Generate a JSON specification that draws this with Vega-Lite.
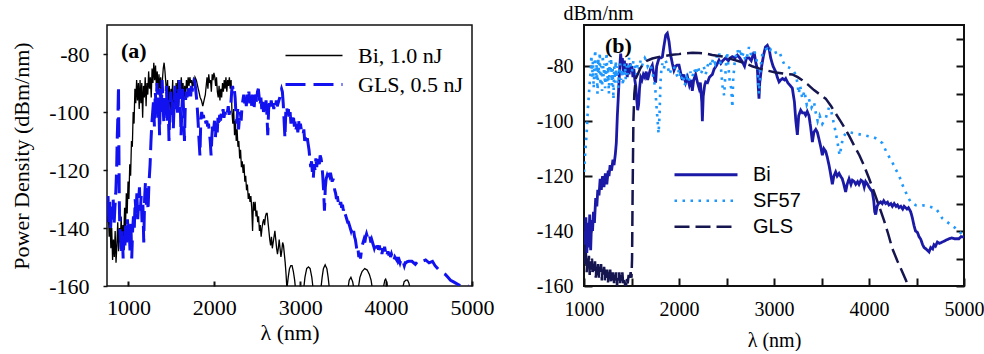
{
  "$schema": "https://vega.github.io/schema/vega-lite/v6.json",
  "padding": {"left": 9, "top": 2, "right": 0, "bottom": 0},
  "background": "white",
  "spacing": 112,
  "bounds": "flush",
  "datasets": {
    "a": [
      {"s":"Bi, 1.0 nJ","x":755,"y":-138},{"s":"Bi, 1.0 nJ","x":765,"y":-134},{"s":"Bi, 1.0 nJ","x":775,"y":-143},{"s":"Bi, 1.0 nJ","x":785,"y":-137},{"s":"Bi, 1.0 nJ","x":795,"y":-147},{"s":"Bi, 1.0 nJ","x":805,"y":-140},{"s":"Bi, 1.0 nJ","x":815,"y":-151},{"s":"Bi, 1.0 nJ","x":825,"y":-144},{"s":"Bi, 1.0 nJ","x":835,"y":-150},{"s":"Bi, 1.0 nJ","x":845,"y":-141},{"s":"Bi, 1.0 nJ","x":855,"y":-152},{"s":"Bi, 1.0 nJ","x":865,"y":-146},{"s":"Bi, 1.0 nJ","x":875,"y":-138},{"s":"Bi, 1.0 nJ","x":885,"y":-148},{"s":"Bi, 1.0 nJ","x":895,"y":-140},{"s":"Bi, 1.0 nJ","x":905,"y":-145},{"s":"Bi, 1.0 nJ","x":915,"y":-136},{"s":"Bi, 1.0 nJ","x":925,"y":-146},{"s":"Bi, 1.0 nJ","x":935,"y":-139},{"s":"Bi, 1.0 nJ","x":945,"y":-143},{"s":"Bi, 1.0 nJ","x":955,"y":-133},{"s":"Bi, 1.0 nJ","x":965,"y":-140},{"s":"Bi, 1.0 nJ","x":975,"y":-128},{"s":"Bi, 1.0 nJ","x":985,"y":-135},{"s":"Bi, 1.0 nJ","x":995,"y":-124},{"s":"Bi, 1.0 nJ","x":1005,"y":-130},{"s":"Bi, 1.0 nJ","x":1015,"y":-118},{"s":"Bi, 1.0 nJ","x":1025,"y":-122},{"s":"Bi, 1.0 nJ","x":1035,"y":-110},{"s":"Bi, 1.0 nJ","x":1045,"y":-112},{"s":"Bi, 1.0 nJ","x":1055,"y":-100},{"s":"Bi, 1.0 nJ","x":1065,"y":-104},{"s":"Bi, 1.0 nJ","x":1075,"y":-92},{"s":"Bi, 1.0 nJ","x":1085,"y":-97},{"s":"Bi, 1.0 nJ","x":1095,"y":-89},{"s":"Bi, 1.0 nJ","x":1105,"y":-96},{"s":"Bi, 1.0 nJ","x":1115,"y":-90},{"s":"Bi, 1.0 nJ","x":1125,"y":-99},{"s":"Bi, 1.0 nJ","x":1135,"y":-89},{"s":"Bi, 1.0 nJ","x":1145,"y":-97},{"s":"Bi, 1.0 nJ","x":1155,"y":-90},{"s":"Bi, 1.0 nJ","x":1165,"y":-102},{"s":"Bi, 1.0 nJ","x":1175,"y":-91},{"s":"Bi, 1.0 nJ","x":1185,"y":-95},{"s":"Bi, 1.0 nJ","x":1195,"y":-88},{"s":"Bi, 1.0 nJ","x":1205,"y":-98},{"s":"Bi, 1.0 nJ","x":1215,"y":-90},{"s":"Bi, 1.0 nJ","x":1225,"y":-94},{"s":"Bi, 1.0 nJ","x":1235,"y":-86},{"s":"Bi, 1.0 nJ","x":1245,"y":-92},{"s":"Bi, 1.0 nJ","x":1255,"y":-88},{"s":"Bi, 1.0 nJ","x":1265,"y":-95},{"s":"Bi, 1.0 nJ","x":1275,"y":-85},{"s":"Bi, 1.0 nJ","x":1285,"y":-90},{"s":"Bi, 1.0 nJ","x":1295,"y":-83},{"s":"Bi, 1.0 nJ","x":1305,"y":-89},{"s":"Bi, 1.0 nJ","x":1315,"y":-84},{"s":"Bi, 1.0 nJ","x":1325,"y":-91},{"s":"Bi, 1.0 nJ","x":1335,"y":-86},{"s":"Bi, 1.0 nJ","x":1345,"y":-94},{"s":"Bi, 1.0 nJ","x":1355,"y":-87},{"s":"Bi, 1.0 nJ","x":1365,"y":-92},{"s":"Bi, 1.0 nJ","x":1375,"y":-88},{"s":"Bi, 1.0 nJ","x":1385,"y":-96},{"s":"Bi, 1.0 nJ","x":1395,"y":-89},{"s":"Bi, 1.0 nJ","x":1405,"y":-85},{"s":"Bi, 1.0 nJ","x":1415,"y":-83},{"s":"Bi, 1.0 nJ","x":1425,"y":-86},{"s":"Bi, 1.0 nJ","x":1435,"y":-90},{"s":"Bi, 1.0 nJ","x":1445,"y":-94},{"s":"Bi, 1.0 nJ","x":1455,"y":-89},{"s":"Bi, 1.0 nJ","x":1465,"y":-98},{"s":"Bi, 1.0 nJ","x":1475,"y":-91},{"s":"Bi, 1.0 nJ","x":1485,"y":-100},{"s":"Bi, 1.0 nJ","x":1495,"y":-92},{"s":"Bi, 1.0 nJ","x":1505,"y":-96},{"s":"Bi, 1.0 nJ","x":1515,"y":-89},{"s":"Bi, 1.0 nJ","x":1525,"y":-104},{"s":"Bi, 1.0 nJ","x":1535,"y":-93},{"s":"Bi, 1.0 nJ","x":1545,"y":-97},{"s":"Bi, 1.0 nJ","x":1555,"y":-90},{"s":"Bi, 1.0 nJ","x":1565,"y":-95},{"s":"Bi, 1.0 nJ","x":1575,"y":-89},{"s":"Bi, 1.0 nJ","x":1585,"y":-98},{"s":"Bi, 1.0 nJ","x":1595,"y":-91},{"s":"Bi, 1.0 nJ","x":1605,"y":-94},{"s":"Bi, 1.0 nJ","x":1615,"y":-88},{"s":"Bi, 1.0 nJ","x":1625,"y":-93},{"s":"Bi, 1.0 nJ","x":1635,"y":-90},{"s":"Bi, 1.0 nJ","x":1645,"y":-96},{"s":"Bi, 1.0 nJ","x":1655,"y":-91},{"s":"Bi, 1.0 nJ","x":1665,"y":-95},{"s":"Bi, 1.0 nJ","x":1675,"y":-89},{"s":"Bi, 1.0 nJ","x":1685,"y":-92},{"s":"Bi, 1.0 nJ","x":1695,"y":-88},{"s":"Bi, 1.0 nJ","x":1705,"y":-91},{"s":"Bi, 1.0 nJ","x":1715,"y":-88},{"s":"Bi, 1.0 nJ","x":1725,"y":-90},{"s":"Bi, 1.0 nJ","x":1735,"y":-89},{"s":"Bi, 1.0 nJ","x":1745,"y":-92},{"s":"Bi, 1.0 nJ","x":1755,"y":-89},{"s":"Bi, 1.0 nJ","x":1765,"y":-91},{"s":"Bi, 1.0 nJ","x":1775,"y":-88},{"s":"Bi, 1.0 nJ","x":1790,"y":-89},{"s":"Bi, 1.0 nJ","x":1805,"y":-91},{"s":"Bi, 1.0 nJ","x":1820,"y":-93},{"s":"Bi, 1.0 nJ","x":1835,"y":-95},{"s":"Bi, 1.0 nJ","x":1850,"y":-96},{"s":"Bi, 1.0 nJ","x":1865,"y":-98},{"s":"Bi, 1.0 nJ","x":1880,"y":-96},{"s":"Bi, 1.0 nJ","x":1895,"y":-94},{"s":"Bi, 1.0 nJ","x":1905,"y":-91},{"s":"Bi, 1.0 nJ","x":1915,"y":-88},{"s":"Bi, 1.0 nJ","x":1925,"y":-92},{"s":"Bi, 1.0 nJ","x":1935,"y":-87},{"s":"Bi, 1.0 nJ","x":1945,"y":-90},{"s":"Bi, 1.0 nJ","x":1955,"y":-89},{"s":"Bi, 1.0 nJ","x":1965,"y":-93},{"s":"Bi, 1.0 nJ","x":1975,"y":-87},{"s":"Bi, 1.0 nJ","x":1985,"y":-89},{"s":"Bi, 1.0 nJ","x":1995,"y":-86.5},{"s":"Bi, 1.0 nJ","x":2005,"y":-88},{"s":"Bi, 1.0 nJ","x":2015,"y":-91},{"s":"Bi, 1.0 nJ","x":2025,"y":-88},{"s":"Bi, 1.0 nJ","x":2035,"y":-93},{"s":"Bi, 1.0 nJ","x":2045,"y":-95},{"s":"Bi, 1.0 nJ","x":2055,"y":-91},{"s":"Bi, 1.0 nJ","x":2065,"y":-96},{"s":"Bi, 1.0 nJ","x":2075,"y":-92},{"s":"Bi, 1.0 nJ","x":2085,"y":-95},{"s":"Bi, 1.0 nJ","x":2095,"y":-90},{"s":"Bi, 1.0 nJ","x":2105,"y":-93},{"s":"Bi, 1.0 nJ","x":2115,"y":-89},{"s":"Bi, 1.0 nJ","x":2125,"y":-92},{"s":"Bi, 1.0 nJ","x":2135,"y":-88},{"s":"Bi, 1.0 nJ","x":2145,"y":-93},{"s":"Bi, 1.0 nJ","x":2155,"y":-89},{"s":"Bi, 1.0 nJ","x":2165,"y":-91},{"s":"Bi, 1.0 nJ","x":2175,"y":-88},{"s":"Bi, 1.0 nJ","x":2185,"y":-92},{"s":"Bi, 1.0 nJ","x":2195,"y":-89},{"s":"Bi, 1.0 nJ","x":2205,"y":-100},{"s":"Bi, 1.0 nJ","x":2215,"y":-104},{"s":"Bi, 1.0 nJ","x":2225,"y":-99},{"s":"Bi, 1.0 nJ","x":2235,"y":-108},{"s":"Bi, 1.0 nJ","x":2245,"y":-103},{"s":"Bi, 1.0 nJ","x":2255,"y":-110},{"s":"Bi, 1.0 nJ","x":2265,"y":-106},{"s":"Bi, 1.0 nJ","x":2275,"y":-112},{"s":"Bi, 1.0 nJ","x":2285,"y":-110},{"s":"Bi, 1.0 nJ","x":2295,"y":-116},{"s":"Bi, 1.0 nJ","x":2305,"y":-113},{"s":"Bi, 1.0 nJ","x":2315,"y":-119},{"s":"Bi, 1.0 nJ","x":2325,"y":-117},{"s":"Bi, 1.0 nJ","x":2335,"y":-121},{"s":"Bi, 1.0 nJ","x":2345,"y":-118},{"s":"Bi, 1.0 nJ","x":2355,"y":-124},{"s":"Bi, 1.0 nJ","x":2365,"y":-122},{"s":"Bi, 1.0 nJ","x":2375,"y":-127},{"s":"Bi, 1.0 nJ","x":2385,"y":-125},{"s":"Bi, 1.0 nJ","x":2395,"y":-130},{"s":"Bi, 1.0 nJ","x":2405,"y":-128},{"s":"Bi, 1.0 nJ","x":2415,"y":-131},{"s":"Bi, 1.0 nJ","x":2425,"y":-129},{"s":"Bi, 1.0 nJ","x":2435,"y":-133},{"s":"Bi, 1.0 nJ","x":2445,"y":-141},{"s":"Bi, 1.0 nJ","x":2455,"y":-131},{"s":"Bi, 1.0 nJ","x":2465,"y":-134},{"s":"Bi, 1.0 nJ","x":2475,"y":-131},{"s":"Bi, 1.0 nJ","x":2485,"y":-136},{"s":"Bi, 1.0 nJ","x":2495,"y":-134},{"s":"Bi, 1.0 nJ","x":2505,"y":-138},{"s":"Bi, 1.0 nJ","x":2515,"y":-136},{"s":"Bi, 1.0 nJ","x":2525,"y":-141},{"s":"Bi, 1.0 nJ","x":2535,"y":-139},{"s":"Bi, 1.0 nJ","x":2545,"y":-143},{"s":"Bi, 1.0 nJ","x":2555,"y":-140},{"s":"Bi, 1.0 nJ","x":2565,"y":-138},{"s":"Bi, 1.0 nJ","x":2575,"y":-137},{"s":"Bi, 1.0 nJ","x":2585,"y":-139},{"s":"Bi, 1.0 nJ","x":2595,"y":-136},{"s":"Bi, 1.0 nJ","x":2605,"y":-135},{"s":"Bi, 1.0 nJ","x":2615,"y":-135},{"s":"Bi, 1.0 nJ","x":2625,"y":-138},{"s":"Bi, 1.0 nJ","x":2635,"y":-141},{"s":"Bi, 1.0 nJ","x":2645,"y":-144},{"s":"Bi, 1.0 nJ","x":2655,"y":-146},{"s":"Bi, 1.0 nJ","x":2665,"y":-143},{"s":"Bi, 1.0 nJ","x":2675,"y":-147},{"s":"Bi, 1.0 nJ","x":2685,"y":-145},{"s":"Bi, 1.0 nJ","x":2695,"y":-143},{"s":"Bi, 1.0 nJ","x":2705,"y":-141},{"s":"Bi, 1.0 nJ","x":2715,"y":-144},{"s":"Bi, 1.0 nJ","x":2725,"y":-147},{"s":"Bi, 1.0 nJ","x":2735,"y":-149},{"s":"Bi, 1.0 nJ","x":2745,"y":-147},{"s":"Bi, 1.0 nJ","x":2755,"y":-144},{"s":"Bi, 1.0 nJ","x":2765,"y":-147},{"s":"Bi, 1.0 nJ","x":2775,"y":-150},{"s":"Bi, 1.0 nJ","x":2785,"y":-148},{"s":"Bi, 1.0 nJ","x":2795,"y":-145},{"s":"Bi, 1.0 nJ","x":2805,"y":-146},{"s":"Bi, 1.0 nJ","x":2815,"y":-149},{"s":"Bi, 1.0 nJ","x":2825,"y":-152},{"s":"Bi, 1.0 nJ","x":2835,"y":-156},{"s":"Bi, 1.0 nJ","x":2845,"y":-161},{"s":"Bi, 1.0 nJ","x":2860,"y":-157},{"s":"Bi, 1.0 nJ","x":2875,"y":-154},{"s":"Bi, 1.0 nJ","x":2890,"y":-153},{"s":"Bi, 1.0 nJ","x":2905,"y":-153},{"s":"Bi, 1.0 nJ","x":2920,"y":-155},{"s":"Bi, 1.0 nJ","x":2935,"y":-158},{"s":"Bi, 1.0 nJ","x":2945,"y":-161},{"s":"Bi, 1.0 nJ","x":3040,"y":-161},{"s":"Bi, 1.0 nJ","x":3055,"y":-157},{"s":"Bi, 1.0 nJ","x":3075,"y":-154},{"s":"Bi, 1.0 nJ","x":3095,"y":-153.4},{"s":"Bi, 1.0 nJ","x":3115,"y":-154},{"s":"Bi, 1.0 nJ","x":3135,"y":-157},{"s":"Bi, 1.0 nJ","x":3150,"y":-161},{"s":"Bi, 1.0 nJ","x":3240,"y":-161},{"s":"Bi, 1.0 nJ","x":3255,"y":-157},{"s":"Bi, 1.0 nJ","x":3270,"y":-154},{"s":"Bi, 1.0 nJ","x":3290,"y":-152.7},{"s":"Bi, 1.0 nJ","x":3310,"y":-154},{"s":"Bi, 1.0 nJ","x":3325,"y":-157},{"s":"Bi, 1.0 nJ","x":3340,"y":-161},{"s":"Bi, 1.0 nJ","x":3555,"y":-161},{"s":"Bi, 1.0 nJ","x":3570,"y":-158},{"s":"Bi, 1.0 nJ","x":3590,"y":-157},{"s":"Bi, 1.0 nJ","x":3610,"y":-158.5},{"s":"Bi, 1.0 nJ","x":3625,"y":-161},{"s":"Bi, 1.0 nJ","x":3675,"y":-161},{"s":"Bi, 1.0 nJ","x":3695,"y":-157},{"s":"Bi, 1.0 nJ","x":3720,"y":-155},{"s":"Bi, 1.0 nJ","x":3750,"y":-154},{"s":"Bi, 1.0 nJ","x":3780,"y":-154.5},{"s":"Bi, 1.0 nJ","x":3805,"y":-156},{"s":"Bi, 1.0 nJ","x":3825,"y":-158},{"s":"Bi, 1.0 nJ","x":3840,"y":-161},{"s":"Bi, 1.0 nJ","x":3965,"y":-161},{"s":"Bi, 1.0 nJ","x":3985,"y":-158},{"s":"Bi, 1.0 nJ","x":3995,"y":-157.6},{"s":"Bi, 1.0 nJ","x":4005,"y":-158.5},{"s":"Bi, 1.0 nJ","x":4020,"y":-161},{"s":"Bi, 1.0 nJ","x":4190,"y":-161},{"s":"Bi, 1.0 nJ","x":4210,"y":-158.5},{"s":"Bi, 1.0 nJ","x":4230,"y":-158},{"s":"Bi, 1.0 nJ","x":4250,"y":-158},{"s":"Bi, 1.0 nJ","x":4265,"y":-159},{"s":"Bi, 1.0 nJ","x":4280,"y":-161},{"s":"Bi, 1.0 nJ","x":4350,"y":-161},
      {"s":"GLS, 0.5 nJ","x":752,"y":-134},{"s":"GLS, 0.5 nJ","x":762,"y":-129},{"s":"GLS, 0.5 nJ","x":772,"y":-138},{"s":"GLS, 0.5 nJ","x":782,"y":-131},{"s":"GLS, 0.5 nJ","x":792,"y":-140},{"s":"GLS, 0.5 nJ","x":802,"y":-133},{"s":"GLS, 0.5 nJ","x":812,"y":-137},{"s":"GLS, 0.5 nJ","x":822,"y":-130},{"s":"GLS, 0.5 nJ","x":832,"y":-139},{"s":"GLS, 0.5 nJ","x":842,"y":-133},{"s":"GLS, 0.5 nJ","x":852,"y":-128},{"s":"GLS, 0.5 nJ","x":862,"y":-120},{"s":"GLS, 0.5 nJ","x":870,"y":-108},{"s":"GLS, 0.5 nJ","x":878,"y":-100},{"s":"GLS, 0.5 nJ","x":884,"y":-91},{"s":"GLS, 0.5 nJ","x":888,"y":-110},{"s":"GLS, 0.5 nJ","x":893,"y":-130},{"s":"GLS, 0.5 nJ","x":899,"y":-140},{"s":"GLS, 0.5 nJ","x":908,"y":-144},{"s":"GLS, 0.5 nJ","x":918,"y":-149},{"s":"GLS, 0.5 nJ","x":928,"y":-141},{"s":"GLS, 0.5 nJ","x":938,"y":-150.5},{"s":"GLS, 0.5 nJ","x":948,"y":-143},{"s":"GLS, 0.5 nJ","x":958,"y":-147},{"s":"GLS, 0.5 nJ","x":968,"y":-139},{"s":"GLS, 0.5 nJ","x":978,"y":-145},{"s":"GLS, 0.5 nJ","x":988,"y":-137},{"s":"GLS, 0.5 nJ","x":998,"y":-142},{"s":"GLS, 0.5 nJ","x":1008,"y":-140},{"s":"GLS, 0.5 nJ","x":1018,"y":-148},{"s":"GLS, 0.5 nJ","x":1028,"y":-138},{"s":"GLS, 0.5 nJ","x":1038,"y":-150.5},{"s":"GLS, 0.5 nJ","x":1048,"y":-141},{"s":"GLS, 0.5 nJ","x":1058,"y":-136},{"s":"GLS, 0.5 nJ","x":1068,"y":-140},{"s":"GLS, 0.5 nJ","x":1078,"y":-130},{"s":"GLS, 0.5 nJ","x":1088,"y":-135},{"s":"GLS, 0.5 nJ","x":1098,"y":-128},{"s":"GLS, 0.5 nJ","x":1108,"y":-137},{"s":"GLS, 0.5 nJ","x":1118,"y":-131},{"s":"GLS, 0.5 nJ","x":1128,"y":-126},{"s":"GLS, 0.5 nJ","x":1138,"y":-134},{"s":"GLS, 0.5 nJ","x":1148,"y":-129},{"s":"GLS, 0.5 nJ","x":1158,"y":-138},{"s":"GLS, 0.5 nJ","x":1168,"y":-132},{"s":"GLS, 0.5 nJ","x":1178,"y":-145},{"s":"GLS, 0.5 nJ","x":1188,"y":-130},{"s":"GLS, 0.5 nJ","x":1198,"y":-124},{"s":"GLS, 0.5 nJ","x":1208,"y":-132},{"s":"GLS, 0.5 nJ","x":1218,"y":-127},{"s":"GLS, 0.5 nJ","x":1228,"y":-134},{"s":"GLS, 0.5 nJ","x":1238,"y":-125},{"s":"GLS, 0.5 nJ","x":1252,"y":-118},{"s":"GLS, 0.5 nJ","x":1262,"y":-110},{"s":"GLS, 0.5 nJ","x":1272,"y":-104},{"s":"GLS, 0.5 nJ","x":1282,"y":-100},{"s":"GLS, 0.5 nJ","x":1292,"y":-96},{"s":"GLS, 0.5 nJ","x":1302,"y":-105},{"s":"GLS, 0.5 nJ","x":1312,"y":-93},{"s":"GLS, 0.5 nJ","x":1322,"y":-98},{"s":"GLS, 0.5 nJ","x":1332,"y":-90},{"s":"GLS, 0.5 nJ","x":1342,"y":-102},{"s":"GLS, 0.5 nJ","x":1352,"y":-95},{"s":"GLS, 0.5 nJ","x":1362,"y":-108},{"s":"GLS, 0.5 nJ","x":1372,"y":-92},{"s":"GLS, 0.5 nJ","x":1382,"y":-100},{"s":"GLS, 0.5 nJ","x":1392,"y":-89},{"s":"GLS, 0.5 nJ","x":1402,"y":-97},{"s":"GLS, 0.5 nJ","x":1412,"y":-104},{"s":"GLS, 0.5 nJ","x":1422,"y":-94},{"s":"GLS, 0.5 nJ","x":1432,"y":-99},{"s":"GLS, 0.5 nJ","x":1442,"y":-91},{"s":"GLS, 0.5 nJ","x":1452,"y":-103},{"s":"GLS, 0.5 nJ","x":1462,"y":-96},{"s":"GLS, 0.5 nJ","x":1472,"y":-110},{"s":"GLS, 0.5 nJ","x":1482,"y":-98},{"s":"GLS, 0.5 nJ","x":1492,"y":-93},{"s":"GLS, 0.5 nJ","x":1502,"y":-101},{"s":"GLS, 0.5 nJ","x":1512,"y":-95},{"s":"GLS, 0.5 nJ","x":1522,"y":-106},{"s":"GLS, 0.5 nJ","x":1532,"y":-97},{"s":"GLS, 0.5 nJ","x":1542,"y":-91},{"s":"GLS, 0.5 nJ","x":1552,"y":-99},{"s":"GLS, 0.5 nJ","x":1562,"y":-93},{"s":"GLS, 0.5 nJ","x":1572,"y":-101},{"s":"GLS, 0.5 nJ","x":1582,"y":-94},{"s":"GLS, 0.5 nJ","x":1592,"y":-89},{"s":"GLS, 0.5 nJ","x":1602,"y":-96},{"s":"GLS, 0.5 nJ","x":1612,"y":-108},{"s":"GLS, 0.5 nJ","x":1622,"y":-99},{"s":"GLS, 0.5 nJ","x":1632,"y":-92},{"s":"GLS, 0.5 nJ","x":1642,"y":-100},{"s":"GLS, 0.5 nJ","x":1652,"y":-110},{"s":"GLS, 0.5 nJ","x":1662,"y":-97},{"s":"GLS, 0.5 nJ","x":1672,"y":-93},{"s":"GLS, 0.5 nJ","x":1682,"y":-95},{"s":"GLS, 0.5 nJ","x":1692,"y":-91},{"s":"GLS, 0.5 nJ","x":1702,"y":-94},{"s":"GLS, 0.5 nJ","x":1712,"y":-92},{"s":"GLS, 0.5 nJ","x":1722,"y":-96},{"s":"GLS, 0.5 nJ","x":1732,"y":-91},{"s":"GLS, 0.5 nJ","x":1742,"y":-93},{"s":"GLS, 0.5 nJ","x":1752,"y":-90},{"s":"GLS, 0.5 nJ","x":1762,"y":-89},{"s":"GLS, 0.5 nJ","x":1772,"y":-89.5},{"s":"GLS, 0.5 nJ","x":1782,"y":-92},{"s":"GLS, 0.5 nJ","x":1792,"y":-95},{"s":"GLS, 0.5 nJ","x":1802,"y":-99},{"s":"GLS, 0.5 nJ","x":1812,"y":-104},{"s":"GLS, 0.5 nJ","x":1822,"y":-110},{"s":"GLS, 0.5 nJ","x":1832,"y":-115},{"s":"GLS, 0.5 nJ","x":1842,"y":-103},{"s":"GLS, 0.5 nJ","x":1852,"y":-100},{"s":"GLS, 0.5 nJ","x":1862,"y":-102},{"s":"GLS, 0.5 nJ","x":1872,"y":-101},{"s":"GLS, 0.5 nJ","x":1882,"y":-103},{"s":"GLS, 0.5 nJ","x":1892,"y":-102},{"s":"GLS, 0.5 nJ","x":1902,"y":-104},{"s":"GLS, 0.5 nJ","x":1912,"y":-103},{"s":"GLS, 0.5 nJ","x":1922,"y":-105},{"s":"GLS, 0.5 nJ","x":1932,"y":-104},{"s":"GLS, 0.5 nJ","x":1942,"y":-107},{"s":"GLS, 0.5 nJ","x":1952,"y":-110},{"s":"GLS, 0.5 nJ","x":1962,"y":-115},{"s":"GLS, 0.5 nJ","x":1972,"y":-108},{"s":"GLS, 0.5 nJ","x":1982,"y":-104},{"s":"GLS, 0.5 nJ","x":1992,"y":-106},{"s":"GLS, 0.5 nJ","x":2002,"y":-103},{"s":"GLS, 0.5 nJ","x":2012,"y":-109},{"s":"GLS, 0.5 nJ","x":2022,"y":-104},{"s":"GLS, 0.5 nJ","x":2032,"y":-108},{"s":"GLS, 0.5 nJ","x":2042,"y":-102},{"s":"GLS, 0.5 nJ","x":2052,"y":-105},{"s":"GLS, 0.5 nJ","x":2062,"y":-101},{"s":"GLS, 0.5 nJ","x":2072,"y":-103},{"s":"GLS, 0.5 nJ","x":2082,"y":-100},{"s":"GLS, 0.5 nJ","x":2092,"y":-101},{"s":"GLS, 0.5 nJ","x":2102,"y":-99},{"s":"GLS, 0.5 nJ","x":2112,"y":-102},{"s":"GLS, 0.5 nJ","x":2122,"y":-100},{"s":"GLS, 0.5 nJ","x":2132,"y":-101},{"s":"GLS, 0.5 nJ","x":2142,"y":-99},{"s":"GLS, 0.5 nJ","x":2152,"y":-100},{"s":"GLS, 0.5 nJ","x":2162,"y":-98},{"s":"GLS, 0.5 nJ","x":2172,"y":-101},{"s":"GLS, 0.5 nJ","x":2182,"y":-99},{"s":"GLS, 0.5 nJ","x":2192,"y":-97},{"s":"GLS, 0.5 nJ","x":2202,"y":-93},{"s":"GLS, 0.5 nJ","x":2212,"y":-91},{"s":"GLS, 0.5 nJ","x":2222,"y":-93},{"s":"GLS, 0.5 nJ","x":2232,"y":-92},{"s":"GLS, 0.5 nJ","x":2242,"y":-95},{"s":"GLS, 0.5 nJ","x":2252,"y":-101},{"s":"GLS, 0.5 nJ","x":2262,"y":-104},{"s":"GLS, 0.5 nJ","x":2272,"y":-99},{"s":"GLS, 0.5 nJ","x":2282,"y":-106},{"s":"GLS, 0.5 nJ","x":2292,"y":-102},{"s":"GLS, 0.5 nJ","x":2302,"y":-100},{"s":"GLS, 0.5 nJ","x":2312,"y":-103},{"s":"GLS, 0.5 nJ","x":2322,"y":-98},{"s":"GLS, 0.5 nJ","x":2332,"y":-96},{"s":"GLS, 0.5 nJ","x":2342,"y":-94},{"s":"GLS, 0.5 nJ","x":2352,"y":-97},{"s":"GLS, 0.5 nJ","x":2362,"y":-95},{"s":"GLS, 0.5 nJ","x":2372,"y":-98},{"s":"GLS, 0.5 nJ","x":2382,"y":-94},{"s":"GLS, 0.5 nJ","x":2392,"y":-96},{"s":"GLS, 0.5 nJ","x":2402,"y":-93},{"s":"GLS, 0.5 nJ","x":2412,"y":-97},{"s":"GLS, 0.5 nJ","x":2422,"y":-95},{"s":"GLS, 0.5 nJ","x":2432,"y":-98},{"s":"GLS, 0.5 nJ","x":2442,"y":-94},{"s":"GLS, 0.5 nJ","x":2452,"y":-96},{"s":"GLS, 0.5 nJ","x":2462,"y":-99},{"s":"GLS, 0.5 nJ","x":2472,"y":-95},{"s":"GLS, 0.5 nJ","x":2482,"y":-94},{"s":"GLS, 0.5 nJ","x":2492,"y":-97},{"s":"GLS, 0.5 nJ","x":2502,"y":-93},{"s":"GLS, 0.5 nJ","x":2512,"y":-92},{"s":"GLS, 0.5 nJ","x":2522,"y":-95},{"s":"GLS, 0.5 nJ","x":2532,"y":-98},{"s":"GLS, 0.5 nJ","x":2542,"y":-95},{"s":"GLS, 0.5 nJ","x":2552,"y":-99},{"s":"GLS, 0.5 nJ","x":2562,"y":-96},{"s":"GLS, 0.5 nJ","x":2572,"y":-100},{"s":"GLS, 0.5 nJ","x":2582,"y":-97},{"s":"GLS, 0.5 nJ","x":2592,"y":-99},{"s":"GLS, 0.5 nJ","x":2602,"y":-96},{"s":"GLS, 0.5 nJ","x":2612,"y":-101},{"s":"GLS, 0.5 nJ","x":2622,"y":-108},{"s":"GLS, 0.5 nJ","x":2632,"y":-99},{"s":"GLS, 0.5 nJ","x":2642,"y":-97},{"s":"GLS, 0.5 nJ","x":2652,"y":-99},{"s":"GLS, 0.5 nJ","x":2662,"y":-96},{"s":"GLS, 0.5 nJ","x":2672,"y":-98},{"s":"GLS, 0.5 nJ","x":2682,"y":-97},{"s":"GLS, 0.5 nJ","x":2692,"y":-99},{"s":"GLS, 0.5 nJ","x":2702,"y":-97},{"s":"GLS, 0.5 nJ","x":2712,"y":-98},{"s":"GLS, 0.5 nJ","x":2722,"y":-96},{"s":"GLS, 0.5 nJ","x":2732,"y":-98},{"s":"GLS, 0.5 nJ","x":2742,"y":-97},{"s":"GLS, 0.5 nJ","x":2752,"y":-96},{"s":"GLS, 0.5 nJ","x":2762,"y":-95},{"s":"GLS, 0.5 nJ","x":2772,"y":-93},{"s":"GLS, 0.5 nJ","x":2782,"y":-92},{"s":"GLS, 0.5 nJ","x":2792,"y":-93},{"s":"GLS, 0.5 nJ","x":2802,"y":-97},{"s":"GLS, 0.5 nJ","x":2812,"y":-103},{"s":"GLS, 0.5 nJ","x":2822,"y":-109},{"s":"GLS, 0.5 nJ","x":2832,"y":-100},{"s":"GLS, 0.5 nJ","x":2842,"y":-98},{"s":"GLS, 0.5 nJ","x":2852,"y":-101},{"s":"GLS, 0.5 nJ","x":2862,"y":-99},{"s":"GLS, 0.5 nJ","x":2872,"y":-103},{"s":"GLS, 0.5 nJ","x":2882,"y":-100},{"s":"GLS, 0.5 nJ","x":2892,"y":-104},{"s":"GLS, 0.5 nJ","x":2902,"y":-101},{"s":"GLS, 0.5 nJ","x":2912,"y":-103},{"s":"GLS, 0.5 nJ","x":2922,"y":-102},{"s":"GLS, 0.5 nJ","x":2932,"y":-105},{"s":"GLS, 0.5 nJ","x":2942,"y":-103},{"s":"GLS, 0.5 nJ","x":2952,"y":-106},{"s":"GLS, 0.5 nJ","x":2962,"y":-104},{"s":"GLS, 0.5 nJ","x":2972,"y":-107},{"s":"GLS, 0.5 nJ","x":2982,"y":-103},{"s":"GLS, 0.5 nJ","x":2992,"y":-106},{"s":"GLS, 0.5 nJ","x":3002,"y":-104},{"s":"GLS, 0.5 nJ","x":3012,"y":-106},{"s":"GLS, 0.5 nJ","x":3022,"y":-107},{"s":"GLS, 0.5 nJ","x":3032,"y":-108},{"s":"GLS, 0.5 nJ","x":3042,"y":-106},{"s":"GLS, 0.5 nJ","x":3052,"y":-110},{"s":"GLS, 0.5 nJ","x":3062,"y":-108},{"s":"GLS, 0.5 nJ","x":3072,"y":-110},{"s":"GLS, 0.5 nJ","x":3082,"y":-109},{"s":"GLS, 0.5 nJ","x":3092,"y":-111},{"s":"GLS, 0.5 nJ","x":3102,"y":-113},{"s":"GLS, 0.5 nJ","x":3112,"y":-116},{"s":"GLS, 0.5 nJ","x":3122,"y":-119},{"s":"GLS, 0.5 nJ","x":3132,"y":-117},{"s":"GLS, 0.5 nJ","x":3142,"y":-121},{"s":"GLS, 0.5 nJ","x":3152,"y":-123},{"s":"GLS, 0.5 nJ","x":3162,"y":-118},{"s":"GLS, 0.5 nJ","x":3172,"y":-120},{"s":"GLS, 0.5 nJ","x":3182,"y":-116},{"s":"GLS, 0.5 nJ","x":3192,"y":-119},{"s":"GLS, 0.5 nJ","x":3202,"y":-115},{"s":"GLS, 0.5 nJ","x":3212,"y":-117},{"s":"GLS, 0.5 nJ","x":3222,"y":-118},{"s":"GLS, 0.5 nJ","x":3232,"y":-115},{"s":"GLS, 0.5 nJ","x":3242,"y":-116},{"s":"GLS, 0.5 nJ","x":3252,"y":-118},{"s":"GLS, 0.5 nJ","x":3262,"y":-122},{"s":"GLS, 0.5 nJ","x":3272,"y":-127},{"s":"GLS, 0.5 nJ","x":3282,"y":-134},{"s":"GLS, 0.5 nJ","x":3292,"y":-126},{"s":"GLS, 0.5 nJ","x":3302,"y":-123},{"s":"GLS, 0.5 nJ","x":3312,"y":-122},{"s":"GLS, 0.5 nJ","x":3322,"y":-123},{"s":"GLS, 0.5 nJ","x":3332,"y":-121},{"s":"GLS, 0.5 nJ","x":3342,"y":-122},{"s":"GLS, 0.5 nJ","x":3352,"y":-121},{"s":"GLS, 0.5 nJ","x":3362,"y":-122.5},{"s":"GLS, 0.5 nJ","x":3372,"y":-124},{"s":"GLS, 0.5 nJ","x":3382,"y":-123},{"s":"GLS, 0.5 nJ","x":3392,"y":-125},{"s":"GLS, 0.5 nJ","x":3402,"y":-127},{"s":"GLS, 0.5 nJ","x":3412,"y":-128},{"s":"GLS, 0.5 nJ","x":3422,"y":-130},{"s":"GLS, 0.5 nJ","x":3432,"y":-129},{"s":"GLS, 0.5 nJ","x":3442,"y":-131},{"s":"GLS, 0.5 nJ","x":3452,"y":-130},{"s":"GLS, 0.5 nJ","x":3462,"y":-132},{"s":"GLS, 0.5 nJ","x":3472,"y":-131},{"s":"GLS, 0.5 nJ","x":3482,"y":-133},{"s":"GLS, 0.5 nJ","x":3492,"y":-132},{"s":"GLS, 0.5 nJ","x":3502,"y":-134},{"s":"GLS, 0.5 nJ","x":3512,"y":-133},{"s":"GLS, 0.5 nJ","x":3522,"y":-135},{"s":"GLS, 0.5 nJ","x":3532,"y":-136},{"s":"GLS, 0.5 nJ","x":3542,"y":-137},{"s":"GLS, 0.5 nJ","x":3552,"y":-138},{"s":"GLS, 0.5 nJ","x":3562,"y":-138},{"s":"GLS, 0.5 nJ","x":3572,"y":-139},{"s":"GLS, 0.5 nJ","x":3582,"y":-140},{"s":"GLS, 0.5 nJ","x":3592,"y":-141},{"s":"GLS, 0.5 nJ","x":3602,"y":-140},{"s":"GLS, 0.5 nJ","x":3612,"y":-142},{"s":"GLS, 0.5 nJ","x":3622,"y":-141},{"s":"GLS, 0.5 nJ","x":3632,"y":-143},{"s":"GLS, 0.5 nJ","x":3642,"y":-144},{"s":"GLS, 0.5 nJ","x":3652,"y":-146},{"s":"GLS, 0.5 nJ","x":3662,"y":-148},{"s":"GLS, 0.5 nJ","x":3672,"y":-147},{"s":"GLS, 0.5 nJ","x":3682,"y":-150},{"s":"GLS, 0.5 nJ","x":3692,"y":-149},{"s":"GLS, 0.5 nJ","x":3702,"y":-150.5},{"s":"GLS, 0.5 nJ","x":3712,"y":-148},{"s":"GLS, 0.5 nJ","x":3722,"y":-146},{"s":"GLS, 0.5 nJ","x":3732,"y":-145},{"s":"GLS, 0.5 nJ","x":3742,"y":-144},{"s":"GLS, 0.5 nJ","x":3752,"y":-145},{"s":"GLS, 0.5 nJ","x":3762,"y":-143},{"s":"GLS, 0.5 nJ","x":3772,"y":-142},{"s":"GLS, 0.5 nJ","x":3782,"y":-143},{"s":"GLS, 0.5 nJ","x":3792,"y":-142.5},{"s":"GLS, 0.5 nJ","x":3802,"y":-144},{"s":"GLS, 0.5 nJ","x":3812,"y":-143},{"s":"GLS, 0.5 nJ","x":3822,"y":-145},{"s":"GLS, 0.5 nJ","x":3832,"y":-144},{"s":"GLS, 0.5 nJ","x":3842,"y":-145},{"s":"GLS, 0.5 nJ","x":3852,"y":-146},{"s":"GLS, 0.5 nJ","x":3862,"y":-147},{"s":"GLS, 0.5 nJ","x":3872,"y":-146},{"s":"GLS, 0.5 nJ","x":3882,"y":-145},{"s":"GLS, 0.5 nJ","x":3892,"y":-147},{"s":"GLS, 0.5 nJ","x":3902,"y":-146},{"s":"GLS, 0.5 nJ","x":3912,"y":-147.5},{"s":"GLS, 0.5 nJ","x":3922,"y":-146},{"s":"GLS, 0.5 nJ","x":3932,"y":-148},{"s":"GLS, 0.5 nJ","x":3942,"y":-147},{"s":"GLS, 0.5 nJ","x":3952,"y":-149},{"s":"GLS, 0.5 nJ","x":3962,"y":-147},{"s":"GLS, 0.5 nJ","x":3972,"y":-148},{"s":"GLS, 0.5 nJ","x":3982,"y":-146.5},{"s":"GLS, 0.5 nJ","x":3992,"y":-148},{"s":"GLS, 0.5 nJ","x":4002,"y":-147},{"s":"GLS, 0.5 nJ","x":4012,"y":-149},{"s":"GLS, 0.5 nJ","x":4022,"y":-148},{"s":"GLS, 0.5 nJ","x":4032,"y":-149.5},{"s":"GLS, 0.5 nJ","x":4042,"y":-148.5},{"s":"GLS, 0.5 nJ","x":4052,"y":-150},{"s":"GLS, 0.5 nJ","x":4062,"y":-149},{"s":"GLS, 0.5 nJ","x":4072,"y":-150},{"s":"GLS, 0.5 nJ","x":4082,"y":-149.5},{"s":"GLS, 0.5 nJ","x":4092,"y":-151},{"s":"GLS, 0.5 nJ","x":4102,"y":-150},{"s":"GLS, 0.5 nJ","x":4112,"y":-150.5},{"s":"GLS, 0.5 nJ","x":4122,"y":-151},{"s":"GLS, 0.5 nJ","x":4132,"y":-150},{"s":"GLS, 0.5 nJ","x":4142,"y":-151.5},{"s":"GLS, 0.5 nJ","x":4152,"y":-151},{"s":"GLS, 0.5 nJ","x":4162,"y":-152},{"s":"GLS, 0.5 nJ","x":4172,"y":-151},{"s":"GLS, 0.5 nJ","x":4182,"y":-152},{"s":"GLS, 0.5 nJ","x":4192,"y":-152.5},{"s":"GLS, 0.5 nJ","x":4202,"y":-152},{"s":"GLS, 0.5 nJ","x":4212,"y":-153},{"s":"GLS, 0.5 nJ","x":4222,"y":-152},{"s":"GLS, 0.5 nJ","x":4232,"y":-152},{"s":"GLS, 0.5 nJ","x":4242,"y":-151.7},{"s":"GLS, 0.5 nJ","x":4262,"y":-151.5},{"s":"GLS, 0.5 nJ","x":4300,"y":-151.5},{"s":"GLS, 0.5 nJ","x":4340,"y":-152.5},{"s":"GLS, 0.5 nJ","x":4380,"y":-151},{"s":"GLS, 0.5 nJ","x":4420,"y":-151.5},{"s":"GLS, 0.5 nJ","x":4460,"y":-151},{"s":"GLS, 0.5 nJ","x":4500,"y":-152},{"s":"GLS, 0.5 nJ","x":4540,"y":-151.5},{"s":"GLS, 0.5 nJ","x":4570,"y":-153},{"s":"GLS, 0.5 nJ","x":4600,"y":-154},{"s":"GLS, 0.5 nJ","x":4630,"y":-155},{"s":"GLS, 0.5 nJ","x":4660,"y":-155.5},{"s":"GLS, 0.5 nJ","x":4690,"y":-156},{"s":"GLS, 0.5 nJ","x":4720,"y":-157},{"s":"GLS, 0.5 nJ","x":4750,"y":-158},{"s":"GLS, 0.5 nJ","x":4780,"y":-158.5},{"s":"GLS, 0.5 nJ","x":4810,"y":-159},{"s":"GLS, 0.5 nJ","x":4840,"y":-159.5},{"s":"GLS, 0.5 nJ","x":4870,"y":-160},{"s":"GLS, 0.5 nJ","x":4900,"y":-159.8},{"s":"GLS, 0.5 nJ","x":4930,"y":-160},{"s":"GLS, 0.5 nJ","x":4960,"y":-160}
    ],
    "b1": [
      {"s":"Bi","x":1000,"y":-140},{"s":"Bi","x":1010,"y":-152},{"s":"Bi","x":1020,"y":-135},{"s":"Bi","x":1030,"y":-148},{"s":"Bi","x":1040,"y":-137},{"s":"Bi","x":1050,"y":-146},{"s":"Bi","x":1060,"y":-134},{"s":"Bi","x":1070,"y":-147},{"s":"Bi","x":1080,"y":-136},{"s":"Bi","x":1090,"y":-140},{"s":"Bi","x":1100,"y":-133},{"s":"Bi","x":1110,"y":-137},{"s":"Bi","x":1123,"y":-128},{"s":"Bi","x":1135,"y":-131},{"s":"Bi","x":1145,"y":-125},{"s":"Bi","x":1158,"y":-127},{"s":"Bi","x":1170,"y":-121},{"s":"Bi","x":1182,"y":-125},{"s":"Bi","x":1195,"y":-120},{"s":"Bi","x":1210,"y":-124},{"s":"Bi","x":1225,"y":-119},{"s":"Bi","x":1240,"y":-123},{"s":"Bi","x":1255,"y":-118},{"s":"Bi","x":1263,"y":-120},{"s":"Bi","x":1275,"y":-116},{"s":"Bi","x":1290,"y":-118},{"s":"Bi","x":1305,"y":-114},{"s":"Bi","x":1316,"y":-116},{"s":"Bi","x":1330,"y":-112},{"s":"Bi","x":1340,"y":-108},{"s":"Bi","x":1351,"y":-98},{"s":"Bi","x":1360,"y":-92},{"s":"Bi","x":1368,"y":-86},{"s":"Bi","x":1377,"y":-80},{"s":"Bi","x":1386,"y":-75.4},{"s":"Bi","x":1395,"y":-79},{"s":"Bi","x":1404,"y":-77},{"s":"Bi","x":1415,"y":-83},{"s":"Bi","x":1425,"y":-78},{"s":"Bi","x":1435,"y":-82},{"s":"Bi","x":1445,"y":-79},{"s":"Bi","x":1455,"y":-84},{"s":"Bi","x":1465,"y":-80},{"s":"Bi","x":1475,"y":-83},{"s":"Bi","x":1485,"y":-79},{"s":"Bi","x":1495,"y":-82},{"s":"Bi","x":1505,"y":-80},{"s":"Bi","x":1515,"y":-84},{"s":"Bi","x":1525,"y":-81},{"s":"Bi","x":1535,"y":-85},{"s":"Bi","x":1544,"y":-87},{"s":"Bi","x":1555,"y":-92},{"s":"Bi","x":1565,"y":-96},{"s":"Bi","x":1575,"y":-94},{"s":"Bi","x":1585,"y":-88},{"s":"Bi","x":1597,"y":-84},{"s":"Bi","x":1610,"y":-85},{"s":"Bi","x":1625,"y":-83},{"s":"Bi","x":1640,"y":-84},{"s":"Bi","x":1655,"y":-82},{"s":"Bi","x":1670,"y":-85},{"s":"Bi","x":1684,"y":-83},{"s":"Bi","x":1700,"y":-81},{"s":"Bi","x":1719,"y":-79.6},{"s":"Bi","x":1730,"y":-82},{"s":"Bi","x":1745,"y":-85},{"s":"Bi","x":1754,"y":-86},{"s":"Bi","x":1765,"y":-80},{"s":"Bi","x":1790,"y":-77},{"s":"Bi","x":1810,"y":-77},{"s":"Bi","x":1825,"y":-76.6},{"s":"Bi","x":1840,"y":-73},{"s":"Bi","x":1860,"y":-68.7},{"s":"Bi","x":1877,"y":-68},{"s":"Bi","x":1895,"y":-71},{"s":"Bi","x":1912,"y":-76},{"s":"Bi","x":1930,"y":-79},{"s":"Bi","x":1947,"y":-81.5},{"s":"Bi","x":1965,"y":-80},{"s":"Bi","x":1980,"y":-79.6},{"s":"Bi","x":2000,"y":-79.6},{"s":"Bi","x":2015,"y":-82},{"s":"Bi","x":2035,"y":-85},{"s":"Bi","x":2050,"y":-83},{"s":"Bi","x":2070,"y":-86},{"s":"Bi","x":2090,"y":-84},{"s":"Bi","x":2110,"y":-87},{"s":"Bi","x":2130,"y":-85},{"s":"Bi","x":2140,"y":-89},{"s":"Bi","x":2155,"y":-85},{"s":"Bi","x":2175,"y":-83},{"s":"Bi","x":2195,"y":-86},{"s":"Bi","x":2211,"y":-88},{"s":"Bi","x":2225,"y":-86},{"s":"Bi","x":2240,"y":-93},{"s":"Bi","x":2246,"y":-100},{"s":"Bi","x":2255,"y":-91},{"s":"Bi","x":2270,"y":-87},{"s":"Bi","x":2281,"y":-85.7},{"s":"Bi","x":2300,"y":-86},{"s":"Bi","x":2320,"y":-84},{"s":"Bi","x":2351,"y":-83},{"s":"Bi","x":2370,"y":-81},{"s":"Bi","x":2390,"y":-80},{"s":"Bi","x":2421,"y":-77.8},{"s":"Bi","x":2440,"y":-79},{"s":"Bi","x":2460,"y":-78},{"s":"Bi","x":2491,"y":-77},{"s":"Bi","x":2520,"y":-78},{"s":"Bi","x":2540,"y":-77},{"s":"Bi","x":2561,"y":-76.5},{"s":"Bi","x":2590,"y":-77},{"s":"Bi","x":2614,"y":-76},{"s":"Bi","x":2640,"y":-77},{"s":"Bi","x":2667,"y":-78.4},{"s":"Bi","x":2690,"y":-80},{"s":"Bi","x":2710,"y":-77},{"s":"Bi","x":2737,"y":-77},{"s":"Bi","x":2760,"y":-78},{"s":"Bi","x":2790,"y":-74.8},{"s":"Bi","x":2810,"y":-79},{"s":"Bi","x":2825,"y":-81},{"s":"Bi","x":2835,"y":-88},{"s":"Bi","x":2842,"y":-91.8},{"s":"Bi","x":2850,"y":-86},{"s":"Bi","x":2870,"y":-80},{"s":"Bi","x":2890,"y":-76},{"s":"Bi","x":2910,"y":-73},{"s":"Bi","x":2930,"y":-72.4},{"s":"Bi","x":2950,"y":-74},{"s":"Bi","x":2965,"y":-77},{"s":"Bi","x":2990,"y":-80},{"s":"Bi","x":3018,"y":-82},{"s":"Bi","x":3035,"y":-84},{"s":"Bi","x":3053,"y":-85.7},{"s":"Bi","x":3070,"y":-85},{"s":"Bi","x":3090,"y":-84.5},{"s":"Bi","x":3110,"y":-85},{"s":"Bi","x":3123,"y":-84.5},{"s":"Bi","x":3145,"y":-86},{"s":"Bi","x":3170,"y":-87},{"s":"Bi","x":3193,"y":-88},{"s":"Bi","x":3215,"y":-93},{"s":"Bi","x":3230,"y":-100},{"s":"Bi","x":3246,"y":-105},{"s":"Bi","x":3260,"y":-98},{"s":"Bi","x":3281,"y":-96},{"s":"Bi","x":3300,"y":-97},{"s":"Bi","x":3320,"y":-97},{"s":"Bi","x":3333,"y":-97.8},{"s":"Bi","x":3350,"y":-96.5},{"s":"Bi","x":3368,"y":-98},{"s":"Bi","x":3385,"y":-102},{"s":"Bi","x":3404,"y":-107.6},{"s":"Bi","x":3420,"y":-104},{"s":"Bi","x":3440,"y":-103},{"s":"Bi","x":3456,"y":-104},{"s":"Bi","x":3470,"y":-106},{"s":"Bi","x":3490,"y":-109},{"s":"Bi","x":3509,"y":-112.4},{"s":"Bi","x":3525,"y":-110},{"s":"Bi","x":3544,"y":-111},{"s":"Bi","x":3560,"y":-113},{"s":"Bi","x":3579,"y":-116},{"s":"Bi","x":3595,"y":-119},{"s":"Bi","x":3614,"y":-123},{"s":"Bi","x":3630,"y":-120},{"s":"Bi","x":3649,"y":-118.5},{"s":"Bi","x":3665,"y":-120},{"s":"Bi","x":3685,"y":-119},{"s":"Bi","x":3700,"y":-120},{"s":"Bi","x":3719,"y":-121},{"s":"Bi","x":3735,"y":-123},{"s":"Bi","x":3754,"y":-125.8},{"s":"Bi","x":3770,"y":-123},{"s":"Bi","x":3790,"y":-121},{"s":"Bi","x":3810,"y":-123},{"s":"Bi","x":3825,"y":-121.5},{"s":"Bi","x":3845,"y":-122},{"s":"Bi","x":3860,"y":-123},{"s":"Bi","x":3880,"y":-122},{"s":"Bi","x":3895,"y":-123},{"s":"Bi","x":3915,"y":-121.5},{"s":"Bi","x":3935,"y":-122},{"s":"Bi","x":3950,"y":-124},{"s":"Bi","x":3965,"y":-122},{"s":"Bi","x":3985,"y":-123},{"s":"Bi","x":4000,"y":-124},{"s":"Bi","x":4020,"y":-125},{"s":"Bi","x":4035,"y":-125.8},{"s":"Bi","x":4050,"y":-129},{"s":"Bi","x":4060,"y":-133},{"s":"Bi","x":4070,"y":-134},{"s":"Bi","x":4085,"y":-131},{"s":"Bi","x":4100,"y":-130},{"s":"Bi","x":4123,"y":-129.4},{"s":"Bi","x":4140,"y":-130},{"s":"Bi","x":4155,"y":-129},{"s":"Bi","x":4175,"y":-130},{"s":"Bi","x":4195,"y":-129.5},{"s":"Bi","x":4210,"y":-130.5},{"s":"Bi","x":4230,"y":-130},{"s":"Bi","x":4246,"y":-131},{"s":"Bi","x":4265,"y":-130},{"s":"Bi","x":4285,"y":-131},{"s":"Bi","x":4300,"y":-130.5},{"s":"Bi","x":4316,"y":-131.5},{"s":"Bi","x":4335,"y":-131},{"s":"Bi","x":4355,"y":-132},{"s":"Bi","x":4370,"y":-131},{"s":"Bi","x":4386,"y":-131.5},{"s":"Bi","x":4400,"y":-132},{"s":"Bi","x":4415,"y":-131.5},{"s":"Bi","x":4439,"y":-133},{"s":"Bi","x":4455,"y":-135},{"s":"Bi","x":4474,"y":-138},{"s":"Bi","x":4490,"y":-140},{"s":"Bi","x":4510,"y":-140.5},{"s":"Bi","x":4526,"y":-142},{"s":"Bi","x":4545,"y":-143},{"s":"Bi","x":4565,"y":-145},{"s":"Bi","x":4580,"y":-146},{"s":"Bi","x":4596,"y":-146.4},{"s":"Bi","x":4615,"y":-147},{"s":"Bi","x":4632,"y":-147.6},{"s":"Bi","x":4650,"y":-146},{"s":"Bi","x":4670,"y":-146.5},{"s":"Bi","x":4684,"y":-145},{"s":"Bi","x":4700,"y":-145.5},{"s":"Bi","x":4720,"y":-144},{"s":"Bi","x":4740,"y":-144.5},{"s":"Bi","x":4772,"y":-144},{"s":"Bi","x":4800,"y":-143.5},{"s":"Bi","x":4842,"y":-142.8},{"s":"Bi","x":4870,"y":-142.5},{"s":"Bi","x":4900,"y":-142.8},{"s":"Bi","x":4947,"y":-142.8},{"s":"Bi","x":4970,"y":-142},{"s":"Bi","x":5000,"y":-142.2},
      {"s":"SF57","x":1000,"y":-118.5},{"s":"SF57","x":1010,"y":-113},{"s":"SF57","x":1020,"y":-108},{"s":"SF57","x":1030,"y":-103},{"s":"SF57","x":1040,"y":-96},{"s":"SF57","x":1050,"y":-91},{"s":"SF57","x":1060,"y":-86},{"s":"SF57","x":1070,"y":-82},{"s":"SF57","x":1078,"y":-76},{"s":"SF57","x":1086,"y":-84},{"s":"SF57","x":1094,"y":-78},{"s":"SF57","x":1102,"y":-88},{"s":"SF57","x":1110,"y":-80},{"s":"SF57","x":1118,"y":-74},{"s":"SF57","x":1126,"y":-85},{"s":"SF57","x":1134,"y":-79},{"s":"SF57","x":1142,"y":-90},{"s":"SF57","x":1150,"y":-77},{"s":"SF57","x":1158,"y":-83},{"s":"SF57","x":1166,"y":-75},{"s":"SF57","x":1174,"y":-87},{"s":"SF57","x":1182,"y":-80},{"s":"SF57","x":1190,"y":-89},{"s":"SF57","x":1198,"y":-76},{"s":"SF57","x":1206,"y":-84},{"s":"SF57","x":1214,"y":-79},{"s":"SF57","x":1222,"y":-88},{"s":"SF57","x":1230,"y":-81},{"s":"SF57","x":1238,"y":-75},{"s":"SF57","x":1246,"y":-86},{"s":"SF57","x":1254,"y":-80},{"s":"SF57","x":1262,"y":-90},{"s":"SF57","x":1270,"y":-78},{"s":"SF57","x":1278,"y":-84},{"s":"SF57","x":1286,"y":-77},{"s":"SF57","x":1294,"y":-87},{"s":"SF57","x":1302,"y":-81},{"s":"SF57","x":1310,"y":-92},{"s":"SF57","x":1318,"y":-80},{"s":"SF57","x":1326,"y":-86},{"s":"SF57","x":1334,"y":-78},{"s":"SF57","x":1342,"y":-84},{"s":"SF57","x":1350,"y":-80},{"s":"SF57","x":1360,"y":-88},{"s":"SF57","x":1370,"y":-82},{"s":"SF57","x":1380,"y":-79},{"s":"SF57","x":1390,"y":-85},{"s":"SF57","x":1400,"y":-81},{"s":"SF57","x":1410,"y":-87},{"s":"SF57","x":1420,"y":-82},{"s":"SF57","x":1430,"y":-79},{"s":"SF57","x":1440,"y":-85},{"s":"SF57","x":1450,"y":-80},{"s":"SF57","x":1460,"y":-83},{"s":"SF57","x":1475,"y":-77},{"s":"SF57","x":1490,"y":-79},{"s":"SF57","x":1505,"y":-82},{"s":"SF57","x":1520,"y":-78},{"s":"SF57","x":1535,"y":-80},{"s":"SF57","x":1550,"y":-83},{"s":"SF57","x":1565,"y":-79},{"s":"SF57","x":1580,"y":-81},{"s":"SF57","x":1595,"y":-78},{"s":"SF57","x":1610,"y":-80},{"s":"SF57","x":1625,"y":-78},{"s":"SF57","x":1640,"y":-77},{"s":"SF57","x":1655,"y":-78},{"s":"SF57","x":1670,"y":-80},{"s":"SF57","x":1685,"y":-79},{"s":"SF57","x":1700,"y":-79.6},{"s":"SF57","x":1719,"y":-82},{"s":"SF57","x":1735,"y":-85},{"s":"SF57","x":1750,"y":-88},{"s":"SF57","x":1762,"y":-94},{"s":"SF57","x":1775,"y":-100},{"s":"SF57","x":1785,"y":-104.5},{"s":"SF57","x":1795,"y":-98},{"s":"SF57","x":1805,"y":-86},{"s":"SF57","x":1815,"y":-81},{"s":"SF57","x":1825,"y":-79},{"s":"SF57","x":1840,"y":-81},{"s":"SF57","x":1860,"y":-78},{"s":"SF57","x":1880,"y":-80},{"s":"SF57","x":1900,"y":-83},{"s":"SF57","x":1920,"y":-81},{"s":"SF57","x":1945,"y":-80},{"s":"SF57","x":1965,"y":-82},{"s":"SF57","x":1985,"y":-84},{"s":"SF57","x":2000,"y":-81},{"s":"SF57","x":2020,"y":-85},{"s":"SF57","x":2040,"y":-83},{"s":"SF57","x":2060,"y":-87},{"s":"SF57","x":2080,"y":-84},{"s":"SF57","x":2100,"y":-86},{"s":"SF57","x":2120,"y":-82},{"s":"SF57","x":2140,"y":-84},{"s":"SF57","x":2160,"y":-81},{"s":"SF57","x":2180,"y":-83},{"s":"SF57","x":2200,"y":-80},{"s":"SF57","x":2220,"y":-83},{"s":"SF57","x":2240,"y":-82},{"s":"SF57","x":2260,"y":-80},{"s":"SF57","x":2281,"y":-83},{"s":"SF57","x":2300,"y":-80},{"s":"SF57","x":2320,"y":-78},{"s":"SF57","x":2340,"y":-80},{"s":"SF57","x":2360,"y":-77},{"s":"SF57","x":2380,"y":-79},{"s":"SF57","x":2400,"y":-76},{"s":"SF57","x":2421,"y":-74.8},{"s":"SF57","x":2440,"y":-80},{"s":"SF57","x":2460,"y":-88},{"s":"SF57","x":2475,"y":-90.6},{"s":"SF57","x":2490,"y":-82},{"s":"SF57","x":2505,"y":-74.8},{"s":"SF57","x":2520,"y":-80},{"s":"SF57","x":2535,"y":-86},{"s":"SF57","x":2550,"y":-88},{"s":"SF57","x":2562,"y":-95},{"s":"SF57","x":2570,"y":-85},{"s":"SF57","x":2585,"y":-79},{"s":"SF57","x":2600,"y":-76},{"s":"SF57","x":2614,"y":-74},{"s":"SF57","x":2630,"y":-76},{"s":"SF57","x":2645,"y":-73.6},{"s":"SF57","x":2660,"y":-77},{"s":"SF57","x":2680,"y":-75},{"s":"SF57","x":2700,"y":-78},{"s":"SF57","x":2720,"y":-76},{"s":"SF57","x":2737,"y":-73},{"s":"SF57","x":2760,"y":-76},{"s":"SF57","x":2790,"y":-74.5},{"s":"SF57","x":2810,"y":-76},{"s":"SF57","x":2825,"y":-80},{"s":"SF57","x":2842,"y":-90},{"s":"SF57","x":2860,"y":-80},{"s":"SF57","x":2880,"y":-75},{"s":"SF57","x":2900,"y":-74},{"s":"SF57","x":2930,"y":-73.6},{"s":"SF57","x":2950,"y":-75},{"s":"SF57","x":2965,"y":-74},{"s":"SF57","x":2990,"y":-75.4},{"s":"SF57","x":3020,"y":-75},{"s":"SF57","x":3053,"y":-74.5},{"s":"SF57","x":3070,"y":-76},{"s":"SF57","x":3090,"y":-78},{"s":"SF57","x":3120,"y":-80},{"s":"SF57","x":3160,"y":-80.5},{"s":"SF57","x":3200,"y":-81.5},{"s":"SF57","x":3228,"y":-83},{"s":"SF57","x":3246,"y":-86},{"s":"SF57","x":3260,"y":-90},{"s":"SF57","x":3275,"y":-87},{"s":"SF57","x":3298,"y":-91.8},{"s":"SF57","x":3320,"y":-89},{"s":"SF57","x":3345,"y":-94},{"s":"SF57","x":3368,"y":-92},{"s":"SF57","x":3395,"y":-95},{"s":"SF57","x":3421,"y":-93},{"s":"SF57","x":3440,"y":-97},{"s":"SF57","x":3460,"y":-100},{"s":"SF57","x":3480,"y":-98},{"s":"SF57","x":3509,"y":-101},{"s":"SF57","x":3544,"y":-99},{"s":"SF57","x":3579,"y":-95},{"s":"SF57","x":3600,"y":-96},{"s":"SF57","x":3625,"y":-100},{"s":"SF57","x":3649,"y":-104},{"s":"SF57","x":3670,"y":-108},{"s":"SF57","x":3690,"y":-112.4},{"s":"SF57","x":3705,"y":-110},{"s":"SF57","x":3725,"y":-106},{"s":"SF57","x":3754,"y":-104.5},{"s":"SF57","x":3790,"y":-104},{"s":"SF57","x":3860,"y":-104.5},{"s":"SF57","x":3930,"y":-105},{"s":"SF57","x":4000,"y":-105.5},{"s":"SF57","x":4035,"y":-105.7},{"s":"SF57","x":4070,"y":-106.2},{"s":"SF57","x":4105,"y":-107},{"s":"SF57","x":4140,"y":-108},{"s":"SF57","x":4158,"y":-109.4},{"s":"SF57","x":4193,"y":-111.8},{"s":"SF57","x":4220,"y":-113.5},{"s":"SF57","x":4246,"y":-115},{"s":"SF57","x":4280,"y":-117.5},{"s":"SF57","x":4316,"y":-119.7},{"s":"SF57","x":4350,"y":-123},{"s":"SF57","x":4386,"y":-125.8},{"s":"SF57","x":4415,"y":-128},{"s":"SF57","x":4439,"y":-129.4},{"s":"SF57","x":4491,"y":-130.6},{"s":"SF57","x":4561,"y":-130.6},{"s":"SF57","x":4630,"y":-131},{"s":"SF57","x":4702,"y":-131.8},{"s":"SF57","x":4740,"y":-133.5},{"s":"SF57","x":4772,"y":-135.4},{"s":"SF57","x":4842,"y":-137.2},{"s":"SF57","x":4912,"y":-139},{"s":"SF57","x":4960,"y":-140.5},{"s":"SF57","x":5000,"y":-142}
    ],
    "b2": [
      {"s":"GLS","x":1000,"y":-150},{"s":"GLS","x":1005,"y":-145},{"s":"GLS","x":1012,"y":-152},{"s":"GLS","x":1020,"y":-148},{"s":"GLS","x":1028,"y":-155},{"s":"GLS","x":1036,"y":-150},{"s":"GLS","x":1044,"y":-153},{"s":"GLS","x":1052,"y":-149},{"s":"GLS","x":1060,"y":-156},{"s":"GLS","x":1068,"y":-151},{"s":"GLS","x":1076,"y":-154},{"s":"GLS","x":1084,"y":-150},{"s":"GLS","x":1092,"y":-156},{"s":"GLS","x":1100,"y":-152},{"s":"GLS","x":1108,"y":-155},{"s":"GLS","x":1116,"y":-151},{"s":"GLS","x":1124,"y":-157},{"s":"GLS","x":1132,"y":-153},{"s":"GLS","x":1140,"y":-156},{"s":"GLS","x":1148,"y":-152},{"s":"GLS","x":1156,"y":-157},{"s":"GLS","x":1164,"y":-153},{"s":"GLS","x":1172,"y":-155},{"s":"GLS","x":1180,"y":-152},{"s":"GLS","x":1188,"y":-158},{"s":"GLS","x":1196,"y":-154},{"s":"GLS","x":1204,"y":-156},{"s":"GLS","x":1212,"y":-153},{"s":"GLS","x":1220,"y":-158},{"s":"GLS","x":1228,"y":-154},{"s":"GLS","x":1236,"y":-157},{"s":"GLS","x":1244,"y":-154},{"s":"GLS","x":1252,"y":-159},{"s":"GLS","x":1260,"y":-155},{"s":"GLS","x":1268,"y":-157},{"s":"GLS","x":1276,"y":-154},{"s":"GLS","x":1284,"y":-159},{"s":"GLS","x":1292,"y":-155},{"s":"GLS","x":1300,"y":-158},{"s":"GLS","x":1308,"y":-155},{"s":"GLS","x":1316,"y":-159},{"s":"GLS","x":1324,"y":-156},{"s":"GLS","x":1332,"y":-158},{"s":"GLS","x":1340,"y":-155},{"s":"GLS","x":1348,"y":-160},{"s":"GLS","x":1356,"y":-156},{"s":"GLS","x":1364,"y":-158},{"s":"GLS","x":1372,"y":-155},{"s":"GLS","x":1380,"y":-159},{"s":"GLS","x":1388,"y":-156},{"s":"GLS","x":1396,"y":-158},{"s":"GLS","x":1404,"y":-155},{"s":"GLS","x":1412,"y":-159},{"s":"GLS","x":1420,"y":-157},{"s":"GLS","x":1430,"y":-159},{"s":"GLS","x":1440,"y":-161},{"s":"GLS","x":1450,"y":-157},{"s":"GLS","x":1460,"y":-159},{"s":"GLS","x":1470,"y":-156},{"s":"GLS","x":1480,"y":-158},{"s":"GLS","x":1491,"y":-155},{"s":"GLS","x":1500,"y":-157},{"s":"GLS","x":1506,"y":-150},{"s":"GLS","x":1512,"y":-125},{"s":"GLS","x":1520,"y":-100},{"s":"GLS","x":1530,"y":-90},{"s":"GLS","x":1545,"y":-84.5},{"s":"GLS","x":1561,"y":-83.3},{"s":"GLS","x":1590,"y":-81},{"s":"GLS","x":1614,"y":-79.6},{"s":"GLS","x":1660,"y":-78},{"s":"GLS","x":1719,"y":-77.2},{"s":"GLS","x":1790,"y":-76.6},{"s":"GLS","x":1860,"y":-76.2},{"s":"GLS","x":1930,"y":-75.8},{"s":"GLS","x":2000,"y":-75.6},{"s":"GLS","x":2070,"y":-75.3},{"s":"GLS","x":2140,"y":-75.1},{"s":"GLS","x":2210,"y":-75.2},{"s":"GLS","x":2281,"y":-75.4},{"s":"GLS","x":2350,"y":-75.9},{"s":"GLS","x":2420,"y":-76.3},{"s":"GLS","x":2491,"y":-76.6},{"s":"GLS","x":2560,"y":-77.5},{"s":"GLS","x":2630,"y":-78.2},{"s":"GLS","x":2702,"y":-79},{"s":"GLS","x":2770,"y":-80},{"s":"GLS","x":2842,"y":-80.8},{"s":"GLS","x":2930,"y":-81.6},{"s":"GLS","x":3018,"y":-82.3},{"s":"GLS","x":3100,"y":-82.7},{"s":"GLS","x":3193,"y":-83},{"s":"GLS","x":3250,"y":-84},{"s":"GLS","x":3298,"y":-85.1},{"s":"GLS","x":3360,"y":-86.8},{"s":"GLS","x":3421,"y":-88.7},{"s":"GLS","x":3480,"y":-90.2},{"s":"GLS","x":3544,"y":-91.8},{"s":"GLS","x":3600,"y":-94.5},{"s":"GLS","x":3649,"y":-97.2},{"s":"GLS","x":3700,"y":-100},{"s":"GLS","x":3737,"y":-102.1},{"s":"GLS","x":3790,"y":-105.3},{"s":"GLS","x":3842,"y":-108.8},{"s":"GLS","x":3900,"y":-112.5},{"s":"GLS","x":3947,"y":-116.1},{"s":"GLS","x":4000,"y":-120.8},{"s":"GLS","x":4053,"y":-125.8},{"s":"GLS","x":4105,"y":-130.8},{"s":"GLS","x":4158,"y":-136.1},{"s":"GLS","x":4200,"y":-140.8},{"s":"GLS","x":4246,"y":-146.4},{"s":"GLS","x":4300,"y":-151},{"s":"GLS","x":4351,"y":-154.9},{"s":"GLS","x":4390,"y":-158},{"s":"GLS","x":4421,"y":-161},{"s":"GLS","x":4460,"y":-166}
    ]
  },
  "hconcat": [
    {
      "width": 365,
      "height": 261,
      "view": {"stroke": "#111", "strokeWidth": 1.5},
      "layer": [
        {
          "data": {"name": "a"},
          "mark": {"type": "line", "clip": true, "strokeJoin": "miter"},
          "encoding": {
            "x": {"field": "x", "type": "quantitative",
              "scale": {"domain": [750, 5000], "nice": false, "zero": false},
              "axis": {"values": [1000, 2000, 3000, 4000, 5000], "format": "d", "tickSize": -5, "tickWidth": 2, "labelPadding": 16, "labelFont": "Liberation Serif", "labelFontSize": 22, "title": "λ (nm)", "titleFont": "Liberation Serif", "titleFontSize": 22, "titlePadding": 4}},
            "y": {"field": "y", "type": "quantitative",
              "scale": {"domain": [-160, -70], "nice": false, "zero": false},
              "axis": {"values": [-160, -140, -120, -100, -80], "labelExpr": "'' + datum.value", "tickSize": 4, "tickWidth": 1.5, "labelPadding": 14, "labelFont": "Liberation Serif", "labelFontSize": 22, "title": "Power Density (dBm/nm)", "titleFont": "Liberation Serif", "titleFontSize": 22, "titlePadding": 15}},
            "color": {"field": "s", "type": "nominal",
              "scale": {"domain": ["Bi, 1.0 nJ", "GLS, 0.5 nJ"], "range": ["#000000", "#1212f0"]},
              "legend": {"orient": "none", "legendX": 177, "legendY": 16, "title": null, "symbolType": "stroke", "symbolSize": 3249, "clipHeight": 29, "rowPadding": 0, "padding": 0, "labelFont": "Liberation Serif", "labelFontSize": 22, "labelColor": "#000", "labelOffset": 14}},
            "strokeDash": {"field": "s", "type": "nominal",
              "scale": {"domain": ["Bi, 1.0 nJ", "GLS, 0.5 nJ"], "range": [[1, 0], [20, 8]]},
              "legend": {"orient": "none", "legendX": 177, "legendY": 16, "title": null, "symbolType": "stroke", "symbolSize": 3249, "clipHeight": 29, "rowPadding": 0, "padding": 0, "labelFont": "Liberation Serif", "labelFontSize": 22, "labelColor": "#000", "labelOffset": 14}},
            "strokeWidth": {"field": "s", "type": "nominal",
              "scale": {"domain": ["Bi, 1.0 nJ", "GLS, 0.5 nJ"], "range": [1.3, 3]},
              "legend": {"orient": "none", "legendX": 177, "legendY": 16, "title": null, "symbolType": "stroke", "symbolSize": 3249, "clipHeight": 29, "rowPadding": 0, "padding": 0, "labelFont": "Liberation Serif", "labelFontSize": 22, "labelColor": "#000", "labelOffset": 14}}
          }
        },
        {
          "data": {"values": [{}]},
          "mark": {"type": "text", "text": "(a)", "align": "left", "baseline": "middle", "font": "Liberation Serif", "fontSize": 22, "fontWeight": "bold", "color": "#000"},
          "encoding": {
            "x": {"datum": 913, "type": "quantitative"},
            "y": {"datum": -79, "type": "quantitative"}
          }
        }
      ]
    },
    {
      "width": 380,
      "height": 261,
      "view": {"stroke": "#111", "strokeWidth": 2},
      "resolve": {"axis": {"y": "independent"}},
      "layer": [
        {
          "layer": [
            {
              "data": {"name": "b1"},
              "mark": {"type": "line", "clip": true},
              "encoding": {
                "x": {"field": "x", "type": "quantitative",
                  "scale": {"domain": [1000, 5000], "nice": false, "zero": false},
                  "axis": {"values": [1000, 1500, 2000, 2500, 3000, 3500, 4000, 4500, 5000], "labelExpr": "datum.value % 1000 === 0 ? '' + datum.value : ''", "tickSize": -8, "tickWidth": 2, "labelPadding": 21, "labelFont": "Liberation Serif", "labelFontSize": 20, "title": "λ (nm)", "titleFont": "Liberation Serif", "titleFontSize": 20, "titlePadding": 11}},
                "y": {"field": "y", "type": "quantitative",
                  "scale": {"domain": [-160, -65], "nice": false, "zero": false},
                  "axis": {"orient": "left", "values": [-160, -150, -140, -130, -120, -110, -100, -90, -80, -70], "labelExpr": "datum.value % 20 === 0 ? '' + datum.value : ''", "tickSize": -8, "tickWidth": 2, "labelPadding": 19, "labelFont": "Liberation Serif", "labelFontSize": 20, "title": "dBm/nm", "titleFont": "Liberation Serif", "titleFontSize": 20, "titleAngle": 0, "titleAlign": "center", "titleBaseline": "alphabetic", "titleX": 14, "titleY": -6}},
                "color": {"field": "s", "type": "nominal",
                  "scale": {"domain": ["Bi", "SF57", "GLS"], "range": ["#1a1aa6", "#1e98ff", "#15154f"]},
                  "legend": {"orient": "none", "legendX": 89, "legendY": 137, "title": null, "symbolType": "stroke", "symbolSize": 3969, "clipHeight": 25.5, "rowPadding": 0, "padding": 0, "labelFont": "Liberation Sans", "labelFontSize": 20, "labelColor": "#000", "labelOffset": 14}},
                "strokeDash": {"field": "s", "type": "nominal",
                  "scale": {"domain": ["Bi", "SF57", "GLS"], "range": [[1, 0], [2.5, 5.5], [15, 6]]},
                  "legend": {"orient": "none", "legendX": 89, "legendY": 137, "title": null, "symbolType": "stroke", "symbolSize": 3969, "clipHeight": 25.5, "rowPadding": 0, "padding": 0, "labelFont": "Liberation Sans", "labelFontSize": 20, "labelColor": "#000", "labelOffset": 14}},
                "strokeWidth": {"field": "s", "type": "nominal",
                  "scale": {"domain": ["Bi", "SF57", "GLS"], "range": [2.8, 2.5, 3]},
                  "legend": {"orient": "none", "legendX": 89, "legendY": 137, "title": null, "symbolType": "stroke", "symbolSize": 3969, "clipHeight": 25.5, "rowPadding": 0, "padding": 0, "labelFont": "Liberation Sans", "labelFontSize": 20, "labelColor": "#000", "labelOffset": 14}}
              }
            },
            {
              "data": {"values": [{}]},
              "mark": {"type": "text", "text": "(b)", "align": "left", "baseline": "middle", "font": "Liberation Serif", "fontSize": 22, "fontWeight": "bold", "color": "#000"},
              "encoding": {
                "x": {"datum": 1221, "type": "quantitative"},
                "y": {"datum": -72.6, "type": "quantitative"}
              }
            }
          ]
        },
        {
          "data": {"name": "b2"},
          "mark": {"type": "line", "clip": true},
          "encoding": {
            "x": {"field": "x", "type": "quantitative",
              "scale": {"domain": [1000, 5000], "nice": false, "zero": false},
              "axis": {"values": [1000, 1500, 2000, 2500, 3000, 3500, 4000, 4500, 5000], "labelExpr": "datum.value % 1000 === 0 ? '' + datum.value : ''", "tickSize": -8, "tickWidth": 2, "labelPadding": 21, "labelFont": "Liberation Serif", "labelFontSize": 20, "title": "λ (nm)", "titleFont": "Liberation Serif", "titleFontSize": 20, "titlePadding": 11}},
            "y": {"field": "y", "type": "quantitative",
              "scale": {"domain": [-160, -65], "nice": false, "zero": false},
              "axis": {"orient": "right", "values": [-160, -150, -140, -130, -120, -110, -100, -90, -80, -70], "labels": false, "tickSize": -8, "tickWidth": 2, "title": null}},
            "color": {"field": "s", "type": "nominal",
              "scale": {"domain": ["Bi", "SF57", "GLS"], "range": ["#1a1aa6", "#1e98ff", "#15154f"]},
              "legend": {"orient": "none", "legendX": 89, "legendY": 137, "title": null, "symbolType": "stroke", "symbolSize": 3969, "clipHeight": 25.5, "rowPadding": 0, "padding": 0, "labelFont": "Liberation Sans", "labelFontSize": 20, "labelColor": "#000", "labelOffset": 14}},
            "strokeDash": {"field": "s", "type": "nominal",
              "scale": {"domain": ["Bi", "SF57", "GLS"], "range": [[1, 0], [2.5, 5.5], [15, 6]]},
              "legend": {"orient": "none", "legendX": 89, "legendY": 137, "title": null, "symbolType": "stroke", "symbolSize": 3969, "clipHeight": 25.5, "rowPadding": 0, "padding": 0, "labelFont": "Liberation Sans", "labelFontSize": 20, "labelColor": "#000", "labelOffset": 14}},
            "strokeWidth": {"field": "s", "type": "nominal",
              "scale": {"domain": ["Bi", "SF57", "GLS"], "range": [2.8, 2.5, 3]},
              "legend": {"orient": "none", "legendX": 89, "legendY": 137, "title": null, "symbolType": "stroke", "symbolSize": 3969, "clipHeight": 25.5, "rowPadding": 0, "padding": 0, "labelFont": "Liberation Sans", "labelFontSize": 20, "labelColor": "#000", "labelOffset": 14}}
          }
        }
      ]
    }
  ],
  "resolve": {
    "scale": {"color": "independent", "strokeDash": "independent", "strokeWidth": "independent"},
    "legend": {"color": "independent", "strokeDash": "independent", "strokeWidth": "independent"}
  },
  "config": {
    "font": "Liberation Serif",
    "axis": {"grid": false, "domain": false, "labelFont": "Liberation Serif", "titleFont": "Liberation Serif", "titleFontWeight": "normal", "labelColor": "#000", "titleColor": "#000", "tickColor": "#111", "labelOverlap": false, "labelFlush": false},
    "legend": {"symbolStrokeWidth": 2.5}
  }
}
